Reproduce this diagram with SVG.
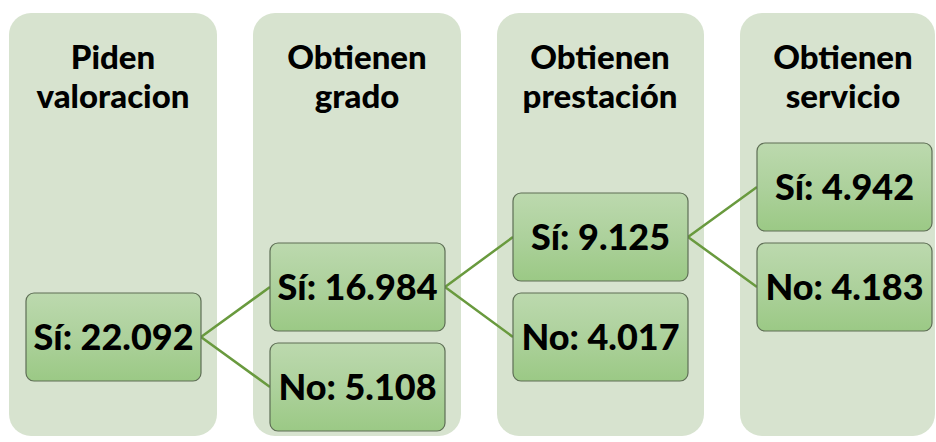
<svg xmlns="http://www.w3.org/2000/svg" width="936" height="442" viewBox="0 0 936 442">
<defs>
<linearGradient id="g" x1="0" y1="0" x2="0" y2="1">
<stop offset="0" stop-color="#bcd9ae"/>
<stop offset="0.5" stop-color="#add19c"/>
<stop offset="1" stop-color="#9bc985"/>
</linearGradient>
</defs>
<style>
.col{fill:#d7e3cf}
.box{fill:url(#g);stroke:#5e6e55;stroke-width:1.2}
.h{font-family:Lato,"Liberation Sans",sans-serif;font-weight:900;font-size:33px;fill:#000;text-anchor:middle}
.t{font-family:Lato,"Liberation Sans",sans-serif;font-weight:900;font-size:36px;fill:#000;text-anchor:middle}
.c{stroke:#699a3e;stroke-width:2.5;fill:none}
</style>
<g id="col1"><rect class="col" x="9" y="13" width="208" height="423" rx="22"/>
<text class="h" x="113" y="69">Piden</text><text class="h" x="113" y="108">valoracion</text></g>
<g id="col2"><rect class="col" x="253" y="13" width="208" height="423" rx="22"/>
<text class="h" x="357" y="69">Obtienen</text><text class="h" x="357" y="108">grado</text></g>
<g id="col3"><rect class="col" x="497" y="13" width="207" height="423" rx="22"/>
<text class="h" x="600" y="69">Obtienen</text><text class="h" x="600" y="108">prestación</text></g>
<g id="col4"><rect class="col" x="740" y="13" width="195" height="423" rx="22"/>
<text class="h" x="843" y="69">Obtienen</text><text class="h" x="843" y="108">servicio</text></g>
<g id="connectors">
<path class="c" d="M201 337L270 287M201 337L270 387"/>
<path class="c" d="M445 287L513 237M445 287L513 337"/>
<path class="c" d="M688 237L757 187M688 237L757 287"/>
</g>
<g id="n1"><rect class="box" x="26" y="293" width="175" height="88" rx="8"/><text class="t" x="113.5" y="350">Sí: 22.092</text></g>
<g id="n2"><rect class="box" x="270" y="243" width="175" height="88" rx="8"/><text class="t" x="357.5" y="300">Sí: 16.984</text></g>
<g id="n3"><rect class="box" x="270" y="343" width="175" height="88" rx="8"/><text class="t" x="357.5" y="400">No: 5.108</text></g>
<g id="n4"><rect class="box" x="513" y="193" width="175" height="88" rx="8"/><text class="t" x="600.5" y="250">Sí: 9.125</text></g>
<g id="n5"><rect class="box" x="513" y="293" width="175" height="88" rx="8"/><text class="t" x="600.5" y="350">No: 4.017</text></g>
<g id="n6"><rect class="box" x="757" y="143" width="175" height="88" rx="8"/><text class="t" x="844.5" y="200">Sí: 4.942</text></g>
<g id="n7"><rect class="box" x="757" y="243" width="175" height="88" rx="8"/><text class="t" x="844.5" y="300">No: 4.183</text></g>
</svg>
